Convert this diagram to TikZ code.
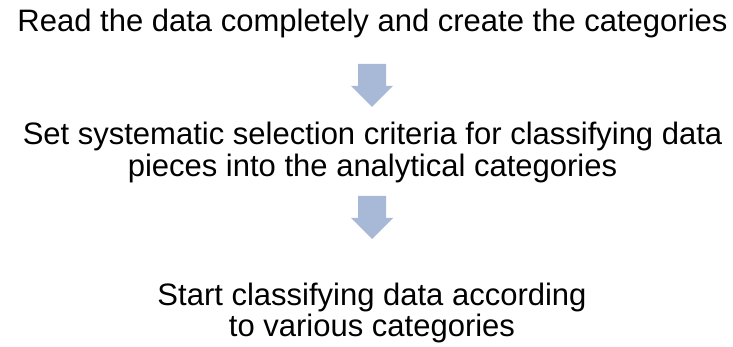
\documentclass[tikz,border=0pt]{standalone}
\usepackage{fontspec}
\setmainfont{Liberation Sans}
\definecolor{arrowblue}{RGB}{167,185,215}
\begin{document}
\begin{tikzpicture}[x=1pt,y=1pt,
  txt/.style={anchor=base,inner sep=0pt,font=\fontsize{31}{32}\selectfont},
  blockarrow/.style={fill=arrowblue,draw=none}]
\useasboundingbox (0,0) rectangle (733,347);
\node[txt] (l1) at (372.5,315) {Read the data completely and create the categories};
\node[txt] (l2) at (372.5,202) {Set systematic selection criteria for classifying data};
\node[txt] (l3) at (372.5,170) {pieces into the analytical categories};
\node[txt] (l4) at (372,41) {Start classifying data according};
\node[txt] (l5) at (372,10) {to various categories};
% block arrows
\coordinate (a1) at (372,283);
\coordinate (a2) at (372,151);
\foreach \c in {a1,a2}{
  \fill[blockarrow] ([xshift=-14]\c) -- ([xshift=14]\c) -- ([xshift=14,yshift=-22]\c)
    -- ([xshift=21,yshift=-22]\c) -- ([yshift=-43]\c) -- ([xshift=-21,yshift=-22]\c)
    -- ([xshift=-14,yshift=-22]\c) -- cycle;
}
\end{tikzpicture}
\end{document}
